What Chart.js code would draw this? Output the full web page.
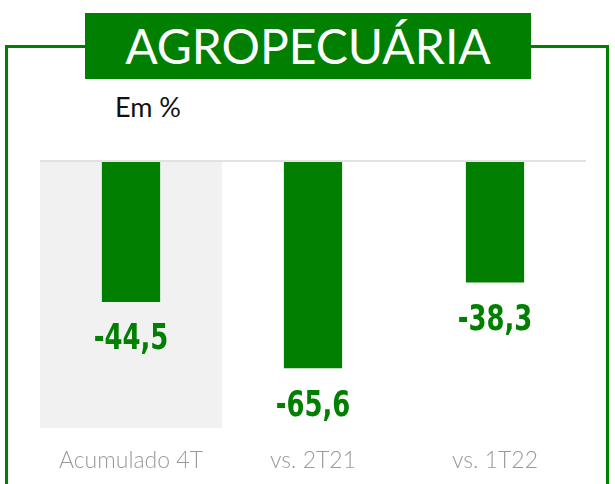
<!DOCTYPE html>
<html>
<head>
<meta charset="utf-8">
<script src="https://cdn.jsdelivr.net/npm/chart.js@4"></script>
<style>
    body { margin: 0; width: 615px; height: 484px; overflow: hidden; background: #fff; position: relative; }
    #frame { position: absolute; left: 5px; top: 45px; width: 598px; height: 500px; border: 3px solid #007f00; border-bottom: none; }
    #title { position: absolute; left: 85px; top: 13px; width: 446px; height: 66px; background: #007f00; color: #fff;
        font-family: Lato, sans-serif; font-size: 48px; line-height: 66px; text-align: center; }
    #unit { position: absolute; left: 115px; top: 90px; font-family: Lato, sans-serif; font-size: 27px; color: #111; }
    #wrap { position: absolute; left: 0; top: 0; width: 615px; height: 484px; }
</style>
</head>
<body>
<div id="frame"></div>
<div id="title">AGROPECUÁRIA</div>
<div id="unit">Em %</div>
<div id="wrap"><canvas id="chart"></canvas></div>
<script>
// valores do gráfico
const categorias = ['Acumulado 4T', 'vs. 2T21', 'vs. 1T22']
const valores = [-44.5, -65.6, -38.3]
const rotulos = ['-44,5', '-65,6', '-38,3']

const verde = '#007f00'

// fundo cinza atrás da primeira categoria + linha do zero + rótulos
const extras = {
    id: 'extras',
    beforeDatasetsDraw(chart) {
        const { ctx, chartArea, scales } = chart
        const x = scales.x
        const y = scales.y
        const larg = x.width / categorias.length
        const cx = x.getPixelForValue(0)
        ctx.save()
        ctx.fillStyle = '#f1f1f1'
        ctx.fillRect(cx - larg / 2, chartArea.top, larg, chartArea.bottom - chartArea.top)
        ctx.strokeStyle = '#e2e2e2'
        ctx.lineWidth = 2
        const y0 = y.getPixelForValue(0)
        ctx.beginPath()
        ctx.moveTo(chartArea.left, y0 - 1)
        ctx.lineTo(chartArea.right, y0 - 1)
        ctx.stroke()
        ctx.restore()
    },
    afterDatasetsDraw(chart) {
        const { ctx } = chart
        const meta = chart.getDatasetMeta(0)
        ctx.fillStyle = verde
        ctx.font = 'bold 36px "DejaVu Sans", sans-serif'
        ctx.textAlign = 'center'
        ctx.textBaseline = 'middle'
        meta.data.forEach((bar, i) => {
            // texto condensado (escala horizontal)
            ctx.save()
            ctx.translate(bar.x, bar.y + 38)
            ctx.scale(0.72, 1)
            ctx.fillText(rotulos[i], 0, 0)
            ctx.restore()
        })
    }
}

new Chart(document.getElementById('chart'), {
    type: 'bar',
    data: {
        labels: categorias,
        datasets: [
            {
                data: valores,
                backgroundColor: verde,
                barPercentage: 0.32,
                categoryPercentage: 1
            }
        ]
    },
    options: {
        responsive: true,
        maintainAspectRatio: false,
        animation: false,
        layout: { padding: { left: 40, right: 29, top: 162, bottom: 12 } },
        plugins: { legend: { display: false }, tooltip: { enabled: false } },
        scales: {
            x: {
                grid: { display: false },
                border: { display: false },
                ticks: { color: '#9a9a9a', padding: 11, font: { family: 'Lato', size: 23, weight: '300' } },
                afterFit(axis) { axis.height = 44 }
            },
            y: {
                display: false,
                min: -84.6,
                max: 0
            }
        }
    },
    plugins: [extras]
})
</script>
</body>
</html>
